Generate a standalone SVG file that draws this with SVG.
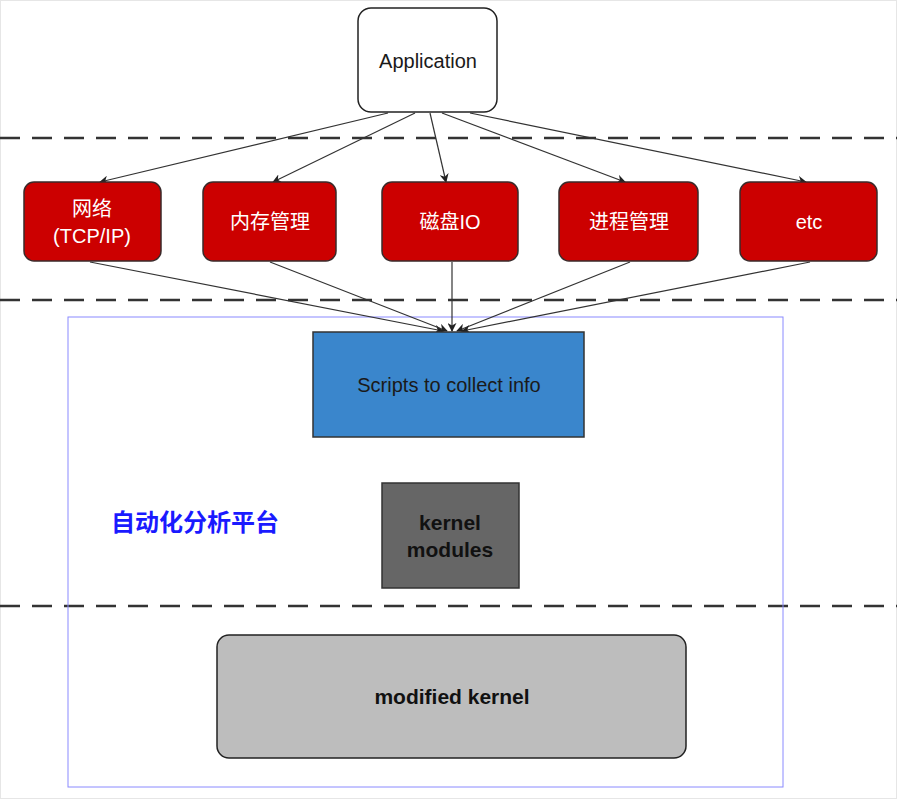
<svg xmlns="http://www.w3.org/2000/svg" width="897" height="799" viewBox="0 0 897 799">
<style>
.sep{stroke:#333;stroke-width:2.5;stroke-dasharray:20 12;fill:none}
.red{fill:#cc0000;stroke:#3a2a2a;stroke-width:1.5}
.rt{font-family:"Liberation Sans","Noto Sans CJK SC",sans-serif;font-size:20px;fill:#fff;text-anchor:middle}
.dt{font-family:"Liberation Sans","Noto Sans CJK SC",sans-serif;font-size:20px;fill:#1a1a1a;text-anchor:middle}
.bt{font-family:"Liberation Sans","Noto Sans CJK SC",sans-serif;font-size:21px;font-weight:bold;fill:#111;text-anchor:middle}
.con{stroke:#333;stroke-width:1.2;fill:none;marker-end:url(#ah)}
</style>
<defs>
<marker id="ah" viewBox="0 0 10 10" refX="9" refY="5" markerWidth="9" markerHeight="9" markerUnits="userSpaceOnUse" orient="auto">
<path d="M0,0 L10,5 L0,10 L3,5 Z" fill="#222"/>
</marker>
</defs>
<rect x="0" y="0" width="897" height="799" fill="#fff"/>
<rect x="0.5" y="0.5" width="896" height="798" fill="none" stroke="#e6e6e6"/>
<g id="separators">
<line class="sep" x1="0" y1="138" x2="897" y2="138"/>
<line class="sep" x1="0" y1="300" x2="897" y2="300"/>
<line class="sep" x1="0" y1="606" x2="897" y2="606"/>
</g>
<g id="platform">
<rect x="68" y="317" width="715" height="470" fill="none" stroke="#8a8aff" stroke-width="1"/>
<text x="195" y="531" font-family="Liberation Sans,'Noto Sans CJK SC',sans-serif" font-size="24" font-weight="bold" fill="#1a1aff" text-anchor="middle">自动化分析平台</text>
</g>
<g id="connectors">
<line class="con" x1="388" y1="113" x2="100" y2="182"/>
<line class="con" x1="415" y1="113" x2="273" y2="182"/>
<line class="con" x1="430" y1="113" x2="446" y2="182"/>
<line class="con" x1="442" y1="113" x2="625" y2="182"/>
<line class="con" x1="470" y1="113" x2="806" y2="182"/>
<line class="con" x1="90" y1="262" x2="443" y2="331"/>
<line class="con" x1="270" y1="262" x2="447" y2="331"/>
<line class="con" x1="452" y1="262" x2="452" y2="331"/>
<line class="con" x1="630" y1="262" x2="457" y2="331"/>
<line class="con" x1="810" y1="262" x2="462" y2="331"/>
</g>
<g id="application">
<rect x="358" y="8" width="139" height="104" rx="13" fill="#fff" stroke="#222" stroke-width="1.5"/>
<text class="dt" x="428" y="68">Application</text>
</g>
<g id="net">
<rect class="red" x="24" y="182" width="137" height="79" rx="10"/>
<text class="rt" x="92" y="216">网络</text>
<text class="rt" x="92" y="243">(TCP/IP)</text>
</g>
<g id="mem">
<rect class="red" x="203" y="182" width="133" height="79" rx="10"/>
<text class="rt" x="270" y="229">内存管理</text>
</g>
<g id="disk">
<rect class="red" x="382" y="182" width="136" height="79" rx="10"/>
<text class="rt" x="450" y="229">磁盘IO</text>
</g>
<g id="proc">
<rect class="red" x="559" y="182" width="139" height="79" rx="10"/>
<text class="rt" x="629" y="229">进程管理</text>
</g>
<g id="etc">
<rect class="red" x="740" y="182" width="137" height="79" rx="10"/>
<text class="rt" x="809" y="229">etc</text>
</g>
<g id="scripts">
<rect x="313" y="332" width="271" height="105" fill="#3a86cc" stroke="#333" stroke-width="1.5"/>
<text class="dt" x="449" y="392">Scripts to collect info</text>
</g>
<g id="kmod">
<rect x="382" y="483" width="137" height="105" fill="#666" stroke="#333" stroke-width="1.5"/>
<text class="bt" x="450" y="530">kernel</text>
<text class="bt" x="450" y="557">modules</text>
</g>
<g id="kernel">
<rect x="217" y="635" width="469" height="123" rx="12" fill="#bdbdbd" stroke="#222" stroke-width="1.5"/>
<text class="bt" x="452" y="704">modified kernel</text>
</g>
</svg>
